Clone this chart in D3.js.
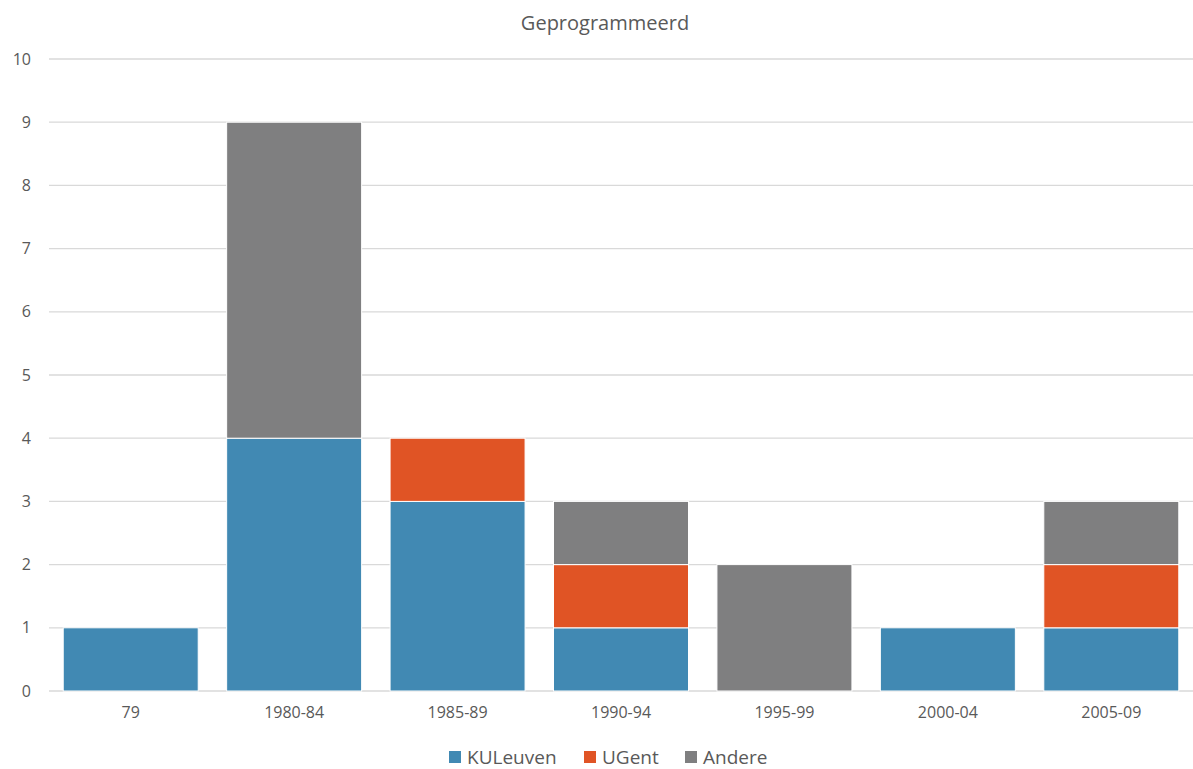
<!DOCTYPE html>
<html>
<head>
<meta charset="utf-8">
<script src="https://cdn.jsdelivr.net/npm/d3@7"></script>
<style>
  body { margin: 0; background: #fff; }
  svg { display: block; font-family: "Open Sans", "Liberation Sans", sans-serif; }
</style>
</head>
<body>
<svg id="chart" width="1193" height="769"></svg>
<script>
// Periods on the x axis
const categories = ["79", "1980-84", "1985-89", "1990-94", "1995-99", "2000-04", "2005-09"];
// Counts per institution
const kuleuven = [1, 4, 3, 1, 0, 1, 1];
const ugent    = [0, 0, 1, 1, 0, 0, 1];
const andere   = [0, 5, 0, 1, 2, 0, 1];
const seriesNames = ["KULeuven", "UGent", "Andere"];
const seriesColors = ["#4189b3", "#e05425", "#7f7f80"];
const yTicks = [0, 1, 2, 3, 4, 5, 6, 7, 8, 9, 10];

const rows = categories.map((c, i) => ({
  cat: c, KULeuven: kuleuven[i], UGent: ugent[i], Andere: andere[i]
}));

const svg = d3.select("#chart");
const plotLeft = 49, plotRight = 1193, plotTop = 59, plotBottom = 691;

const x = d3.scaleBand().domain(categories).range([plotLeft, plotRight])
  .paddingInner(0.174).paddingOuter(0.087);
const y = d3.scaleLinear().domain([0, 10]).range([plotBottom, plotTop]);

// Title
svg.append("text").attr("x", 605).attr("y", 30)
  .attr("text-anchor", "middle").attr("fill", "#595959")
  .attr("font-size", 20).text("Geprogrammeerd");

// Horizontal gridlines
svg.append("g").selectAll("line").data(yTicks).join("line")
  .attr("x1", plotLeft).attr("x2", plotRight)
  .attr("y1", d => y(d)).attr("y2", d => y(d))
  .attr("stroke", "#d9d9d9").attr("stroke-width", 1.3);

// Y axis labels
const yAxis = d3.axisLeft(y).tickValues(yTicks).tickSize(0).tickPadding(0);
const gy = svg.append("g").attr("transform", `translate(${plotLeft - 18},0)`).call(yAxis);
gy.select(".domain").remove();
gy.selectAll("text").attr("fill", "#595959").attr("font-size", 16)
  .attr("font-family", "Open Sans, Liberation Sans, sans-serif");

// X axis labels
const xAxis = d3.axisBottom(x).tickSize(0).tickPadding(0);
const gx = svg.append("g").attr("transform", `translate(0,${plotBottom + 16})`).call(xAxis);
gx.select(".domain").remove();
gx.selectAll("text").attr("fill", "#595959").attr("font-size", 16)
  .attr("font-family", "Open Sans, Liberation Sans, sans-serif");

// Stacked bars
const stacked = d3.stack().keys(seriesNames)(rows);
const color = d3.scaleOrdinal().domain(seriesNames).range(seriesColors);

svg.append("g").selectAll("g").data(stacked).join("g")
  .attr("fill", d => color(d.key))
  .selectAll("rect").data(d => d.filter(s => s[1] - s[0] > 0)).join("rect")
  .attr("x", d => x(d.data.cat))
  .attr("width", x.bandwidth())
  .attr("y", d => y(d[1]))
  .attr("height", d => y(d[0]) - y(d[1]))
  .attr("stroke", "#ffffff").attr("stroke-width", 1);

// Legend
const legendItems = [
  { name: "KULeuven", x: 449 },
  { name: "UGent", x: 584 },
  { name: "Andere", x: 685 }
];
const lg = svg.append("g").selectAll("g").data(legendItems).join("g")
  .attr("transform", d => `translate(${d.x},751)`);
lg.append("rect").attr("width", 12).attr("height", 12)
  .attr("fill", d => color(d.name));
lg.append("text").attr("x", 18).attr("y", 12.5)
  .attr("fill", "#595959").attr("font-size", 19)
  .text(d => d.name);
</script>
</body>
</html>
